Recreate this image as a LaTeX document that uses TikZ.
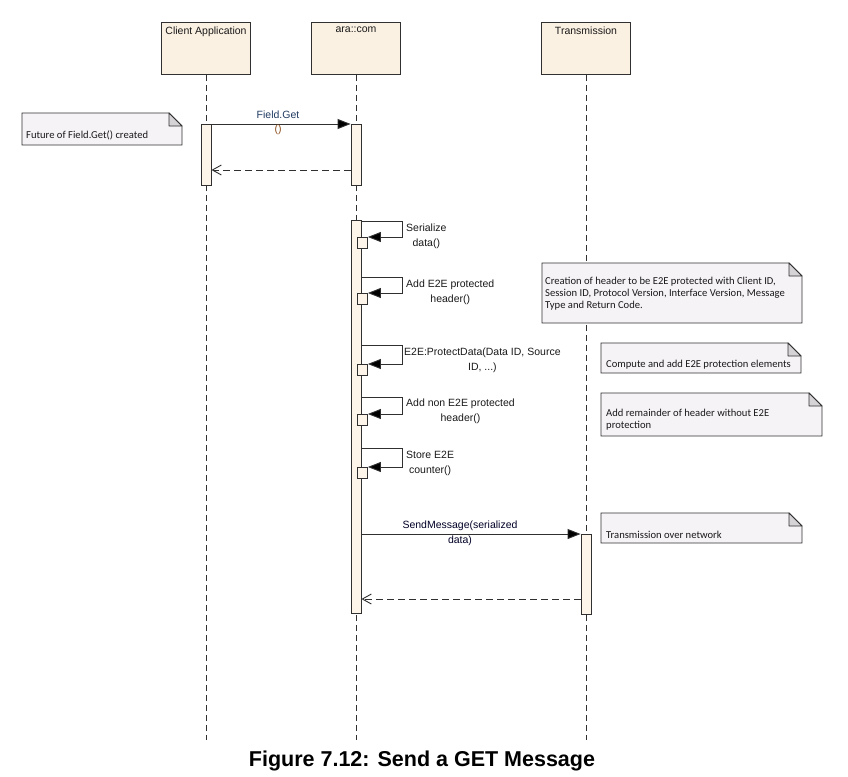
\documentclass[tikz,border=0pt]{standalone}
\usepackage{fontspec}
\setmainfont{Liberation Sans}
\newfontfamily\notefont{Carlito}
\usetikzlibrary{arrows.meta}
\definecolor{headfill}{HTML}{FBF1E3}
\definecolor{actfill}{HTML}{FDF5E9}
\definecolor{notefill}{HTML}{F6F3F7}
\definecolor{foldfill}{HTML}{D6D3D6}
\definecolor{bord}{HTML}{303030}
\definecolor{navy}{HTML}{1F3A60}
\definecolor{brownlbl}{HTML}{8A4B1A}
\newcommand\umlnote[5]{%
  \path[draw=bord, fill=notefill, line width=0.9pt] (#2,#3) coordinate (#1) -- ({#4-13},#3) -- (#4,{#3+13}) -- (#4,#5) -- (#2,#5) -- cycle;
  \path[draw=bord, fill=foldfill, line width=0.9pt, line join=round] ({#4-13},#3) -- ({#4-13},{#3+13}) -- (#4,{#3+13}) -- cycle;}
\newcommand\selfcall[4]{%
  \coordinate (#1top) at (0,#2);
  \node[act, minimum height={#4-#3}, anchor=north west] (#1) at (357,#3) {};
  \draw[msg] (act3.east |- #1top) -| (402,#3) -- (#1.north east);}
\begin{document}
\begin{tikzpicture}[x=1pt,y=-1pt,
  head/.style={draw=bord, fill=headfill, line width=1.1pt, minimum width=89pt, minimum height=52pt, anchor=north, inner sep=0pt},
  headlbl/.style={font=\fontsize{10.5}{13}\selectfont, text=black!90, anchor=north, inner sep=0pt},
  life/.style={draw=bord, line width=0.9pt, dash pattern=on 6pt off 4pt},
  act/.style={draw=bord, fill=actfill, line width=0.9pt, minimum width=10pt, inner sep=0pt},
  msg/.style={draw=bord, line width=0.9pt, -{Triangle[length=13pt,width=10pt,fill=black]}},
  ret/.style={draw=bord, line width=0.9pt, dash pattern=on 7pt off 4pt, -{Straight Barb[length=9pt,width=10pt,line width=0.9pt]}},
  lbl/.style={font=\fontsize{10.5}{14.5}\selectfont, align=center, inner sep=0pt, text=black!90},
  notetext/.style={font=\notefont\fontsize{10.6}{12}\selectfont, align=left, inner sep=0pt, text=black!90},
]
\useasboundingbox (0,0) rectangle (848,776);

% heads
\node[head] (h1) at (206,22) {};
\node[head] (h2) at (356,22) {};
\node[head] (h3) at (586,22) {};
\node[headlbl] (h1t) at ([yshift=-5pt]h1.north) {Client Application};
\node[headlbl] (h2t) at ([yshift=-5pt]h2.north) {ara::com};
\node[headlbl] (h3t) at ([yshift=-5pt]h3.north) {Transmission};

% lifelines
\coordinate (bottom) at (0,740);
\draw[life] (h1.south) -- (h1.south |- bottom);
\draw[life] (h2.south) -- (h2.south |- bottom);
\draw[life] (h3.south) -- (h3.south |- bottom);

% activations
\node[act, minimum height=61pt, anchor=north] (act1) at (206,124) {};
\node[act, minimum height=61pt, anchor=north] (act2) at (356,124) {};
\node[act, minimum height=393pt, anchor=north] (act3) at (356,220) {};
\node[act, minimum height=80pt, anchor=north] (act4) at (586,534) {};

% Field.Get
\draw[msg] (act1.north east) -- (act2.north west);
\node[lbl, text=navy] (fg1) at (278,115) {Field.Get};
\node[lbl, text=brownlbl] (fg2) at (278,130) {()};
\coordinate (r1) at (0,170);
\draw[ret] (act2.west |- r1) -- (act1.east |- r1);

% self calls
\selfcall{s1}{221}{237}{248}
\selfcall{s2}{277}{293}{304}
\selfcall{s3}{345}{364}{375}
\selfcall{s4}{397}{414}{425}
\selfcall{s5}{448}{467}{478}
\node[lbl, anchor=north west] (l1) at (406,224) {Serialize\\data()};
\node[lbl, anchor=north west] (l2) at (406,280) {Add E2E protected\\header()};
\node[lbl, anchor=north west] (l3) at (404,348) {E2E:ProtectData(Data ID, Source\\ID, ...)};
\node[lbl, anchor=north west] (l4) at (406,399) {Add non E2E protected\\header()};
\node[lbl, anchor=north west] (l5) at (406,451) {Store E2E\\counter()};

% SendMessage
\draw[msg] (act3.east |- act4.north) -- (act4.north west);
\node[lbl, text=black!85!blue] (sm) at (460,526) {SendMessage(serialized};
\node[lbl, text=black!85!blue] (sm2) at (460,541) {data)};
\coordinate (r2) at (0,599);
\draw[ret] (act4.west |- r2) -- (act3.east |- r2);

% notes
\umlnote{n1}{22}{113}{182}{145}
\node[notetext, anchor=west] (n1t) at (26,135) {Future of Field.Get() created};
\umlnote{n2}{542}{263}{802}{323}
\node[notetext, anchor=north west] (n2t) at (545,277) {Creation of header to be E2E protected with Client ID,\\Session ID, Protocol Version, Interface Version, Message\\Type and Return Code.};
\umlnote{n3}{601}{343}{801}{373}
\node[notetext, anchor=west] (n3t) at (606,365) {Compute and add E2E protection elements};
\umlnote{n4}{601}{393}{822}{436}
\node[notetext, anchor=north west] (n4t) at (606,409) {Add remainder of header without E2E\\protection};
\umlnote{n5}{601}{513}{802}{543}
\node[notetext, anchor=west] (n5t) at (606,535) {Transmission over network};

% caption
\node[font=\bfseries\fontsize{21.5}{24}\selectfont, inner sep=0pt] (cap) at (422,761) {Figure 7.12: Send a GET Message};
\end{tikzpicture}
\end{document}
